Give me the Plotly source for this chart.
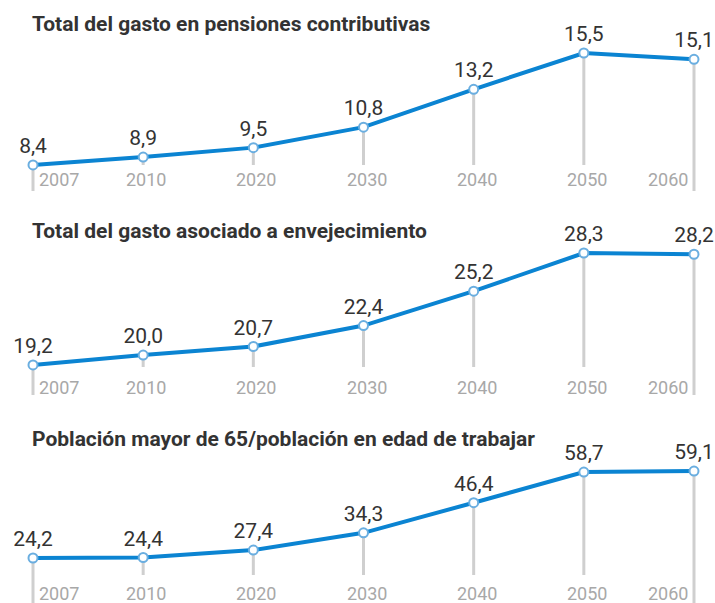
import plotly.graph_objects as go

years = ["2007", "2010", "2020", "2030", "2040", "2050", "2060"]
titles = [
    "Total del gasto en pensiones contributivas",
    "Total del gasto asociado a envejecimiento",
    "Población mayor de 65/población en edad de trabajar",
]
pensiones = [8.4, 8.9, 9.5, 10.8, 13.2, 15.5, 15.1]
envejecimiento = [19.2, 20.0, 20.7, 22.4, 25.2, 28.3, 28.2]
poblacion = [24.2, 24.4, 27.4, 34.3, 46.4, 58.7, 59.1]
series = [pensiones, envejecimiento, poblacion]

W, H = 715, 603
FONT = "Roboto, Liberation Sans, sans-serif"
LINE = "#0b84d2"
GRID = "#cfcfcf"

# panel layout in pixels (top, bottom) and y-ranges
panels = [
    dict(dom=(0, 200), rng=(6.18, 18.86), drop_mid=165, drop_end=191, lab=180, title=24),
    dict(dom=(200, 400), rng=(16.35, 32.61), drop_mid=367, drop_end=395, lab=387, title=231),
    dict(dom=(400, 603), rng=(6.13, 87.65), drop_mid=575, drop_end=603, lab=593, title=439),
]

def px2val(p, pan):
    p0, p1 = pan["dom"]
    lo, hi = pan["rng"]
    return hi - (p - p0) / (p1 - p0) * (hi - lo)

def pfrac(p):
    return 1 - p / H

fig = go.Figure()
annotations = []
n = len(years)
for i, (vals, pan, title) in enumerate(zip(series, panels, titles)):
    yname = "y" if i == 0 else f"y{i+1}"
    # droplines
    dx, dy = [], []
    for j, (yr, v) in enumerate(zip(years, vals)):
        bottom_px = pan["drop_end"] if j in (0, n - 1) else pan["drop_mid"]
        dx += [yr, yr, None]
        dy += [v, px2val(bottom_px, pan), None]
    fig.add_trace(go.Scatter(x=dx, y=dy, mode="lines", yaxis=yname,
                             line=dict(color=GRID, width=3), hoverinfo="skip",
                             showlegend=False))
    fig.add_trace(go.Scatter(
        x=years, y=vals, yaxis=yname, mode="lines+markers+text",
        line=dict(color=LINE, width=4),
        marker=dict(size=9, color="white", line=dict(color="#6aaee0", width=2)),
        text=[f"{v:.1f}".replace(".", ",") for v in vals],
        textposition="top center",
        textfont=dict(family=FONT, size=21, color="#333333"),
        showlegend=False, cliponaxis=False,
    ))
    annotations.append(dict(
        text=f"<b>{title}</b>", xref="paper", yref="paper", x=30 / W,
        y=pfrac(pan["title"]), xanchor="left", yanchor="middle", showarrow=False,
        font=dict(family=FONT, size=21, color="#333333"),
    ))
    for j, yr in enumerate(years):
        shift = 26 if j == 0 else (-26 if j == n - 1 else 3)
        annotations.append(dict(
            text=yr, x=j, xref="x", yref="paper", y=pfrac(pan["lab"]),
            xanchor="center", yanchor="middle", showarrow=False, xshift=shift,
            font=dict(family=FONT, size=18, color="#a8a8a8"),
        ))

layout = dict(
    width=W, height=H, margin=dict(l=0, r=0, t=0, b=0),
    paper_bgcolor="white", plot_bgcolor="white",
    xaxis=dict(type="category", range=[-33 / 110.17, 6 + 21 / 110.17],
               showgrid=False, showticklabels=False, zeroline=False, showline=False,
               fixedrange=True),
    annotations=annotations,
)
for i, pan in enumerate(panels):
    key = "yaxis" if i == 0 else f"yaxis{i+1}"
    p0, p1 = pan["dom"]
    layout[key] = dict(domain=[pfrac(p1), pfrac(p0)], range=list(pan["rng"]),
                       showgrid=False, showticklabels=False, zeroline=False,
                       showline=False, anchor="x")
fig.update_layout(**layout)
fig.write_html("out.html")
